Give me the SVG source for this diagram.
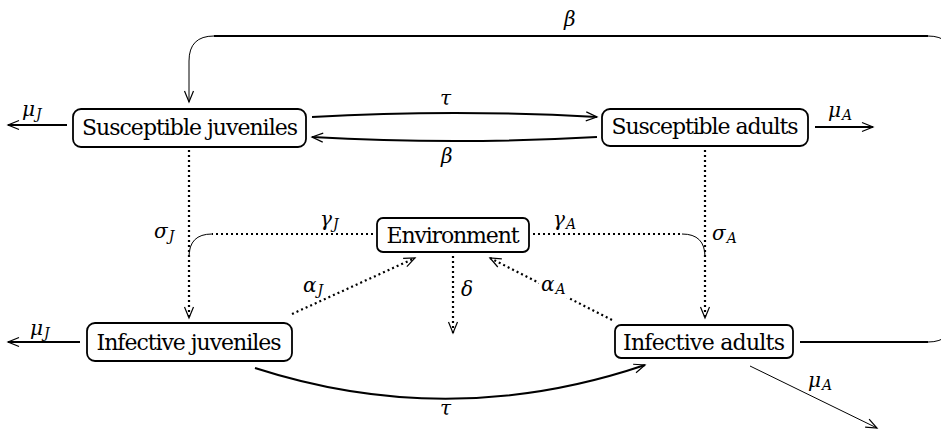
<svg xmlns="http://www.w3.org/2000/svg" width="941" height="429" viewBox="0 0 941 429">
<style>
.box{fill:#fff;stroke:#000;stroke-width:1.8}
.lbl{font-family:'DejaVu Serif',serif;font-size:22px;fill:#000;text-anchor:middle}
.m{font-family:'DejaVu Serif',serif;font-style:italic;font-size:20px;fill:#000}
.sub{font-size:14px}
.solid{fill:none;stroke:#000;stroke-width:2}
.thin{fill:none;stroke:#000;stroke-width:1}
.dot{fill:none;stroke:#000;stroke-width:2.2;stroke-dasharray:2 3}
</style>
<defs>
<marker id="arr" markerUnits="userSpaceOnUse" markerWidth="16" markerHeight="12" refX="0" refY="0" viewBox="-13 -6 16 12" orient="auto" overflow="visible">
<path d="M-11,-4.5 L0,0 L-11,4.5" fill="none" stroke="#000" stroke-width="1.2"/>
</marker>
</defs>
<g id="connectors">
<path class="solid" d="M67,125 H8" marker-end="url(#arr)"/>
<path class="solid" d="M815,127 H873" marker-end="url(#arr)"/>
<path class="solid" d="M80,342 H8" marker-end="url(#arr)"/>
<path class="thin" d="M750,366 L877,428" marker-end="url(#arr)"/>
<path class="solid" d="M312,117 Q455,109 597,117" marker-end="url(#arr)"/>
<path class="solid" d="M597,137 Q455,145 312,137" marker-end="url(#arr)"/>
<path class="solid" d="M800,342 H928"/>
<path class="thin" d="M928,342 Q953,342 953,317"/>
<path class="solid" d="M953,317 V61"/>
<path class="thin" d="M953,61 Q953,36 928,36"/>
<path class="solid" d="M928,36 H214"/>
<path class="thin" d="M214,36 Q189,36 189,61"/>
<path class="thin" d="M189,61 V102" marker-end="url(#arr)"/>
<path class="dot" d="M189,150 V318" marker-end="url(#arr)"/>
<path class="dot" d="M705,150 V318" marker-end="url(#arr)"/>
<path class="dot" d="M373,234 H212"/>
<path class="thin" d="M212,234 Q189,234 189,257"/>
<path class="dot" d="M533,234 H682"/>
<path class="thin" d="M682,234 Q705,234 705,257"/>
<path class="dot" d="M292,314 L415,258" marker-end="url(#arr)"/>
<path class="dot" d="M612,320 L490,258" marker-end="url(#arr)"/>
<path class="dot" d="M453,256 V333" marker-end="url(#arr)"/>
<path class="solid" d="M255,368 Q450,431 645,365" marker-end="url(#arr)"/>
</g>
<g id="labels">
<text class="m" x="22" y="116">μ<tspan class="sub" dx="1" dy="3">J</tspan></text>
<text class="m" x="828" y="117">μ<tspan class="sub" dx="1" dy="3">A</tspan></text>
<text class="m" x="30" y="335">μ<tspan class="sub" dx="1" dy="3">J</tspan></text>
<text class="m" x="808" y="387">μ<tspan class="sub" dx="1" dy="3">A</tspan></text>
<text class="m" x="440" y="105">τ</text>
<text class="m" x="441" y="163">β</text>
<text class="m" x="564" y="26">β</text>
<text class="m" x="440" y="415">τ</text>
<text class="m" x="154" y="238">σ<tspan class="sub" dx="1" dy="3">J</tspan></text>
<text class="m" x="320" y="226">γ<tspan class="sub" dx="1" dy="3">J</tspan></text>
<text class="m" x="553" y="226">γ<tspan class="sub" dx="1" dy="3">A</tspan></text>
<text class="m" x="712" y="240">σ<tspan class="sub" dx="1" dy="3">A</tspan></text>
<text class="m" x="303" y="292">α<tspan class="sub" dx="1" dy="3">J</tspan></text>
<rect x="539" y="276" width="31" height="22" fill="#fff"/>
<text class="m" x="541" y="291">α<tspan class="sub" dx="1" dy="3">A</tspan></text>
<text class="m" x="461" y="296">δ</text>
</g>
<g id="susceptible-juveniles">
<rect class="box" x="73" y="109" width="233" height="38" rx="8"/>
<text class="lbl" x="190" y="135" textLength="216">Susceptible juveniles</text>
</g>
<g id="susceptible-adults">
<rect class="box" x="602" y="109" width="206" height="37" rx="8"/>
<text class="lbl" x="705" y="134" textLength="187">Susceptible adults</text>
</g>
<g id="environment">
<rect class="box" x="377" y="218" width="152" height="34" rx="6"/>
<text class="lbl" x="453" y="243" textLength="133">Environment</text>
</g>
<g id="infective-juveniles">
<rect class="box" x="87" y="323" width="205" height="38" rx="8"/>
<text class="lbl" x="189" y="350" textLength="185">Infective juveniles</text>
</g>
<g id="infective-adults">
<rect class="box" x="615" y="325" width="178" height="33" rx="6"/>
<text class="lbl" x="704" y="350" textLength="162">Infective adults</text>
</g>
</svg>
